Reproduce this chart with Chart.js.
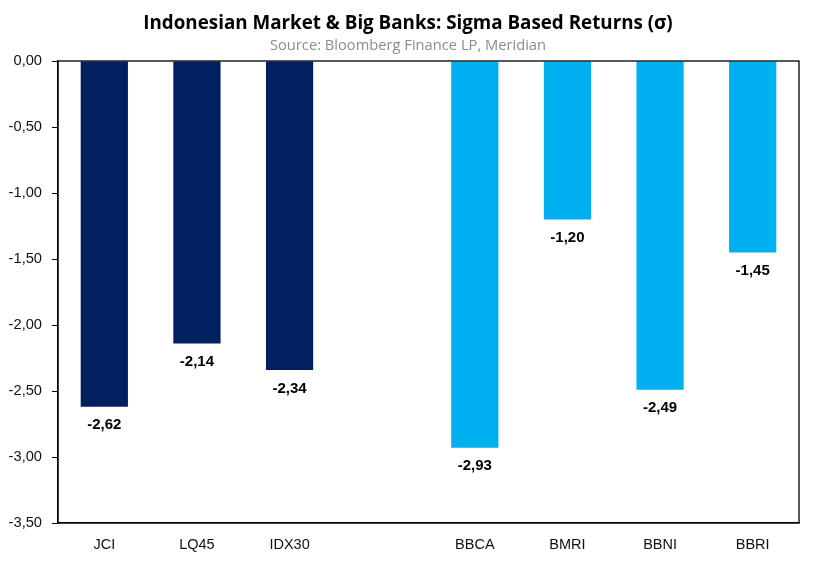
<!DOCTYPE html>
<html>
<head>
<meta charset="utf-8">
<script src="https://cdn.jsdelivr.net/npm/chart.js@4.4.0/dist/chart.umd.min.js"></script>
<style>
  html, body { margin: 0; padding: 0; background: #ffffff; }
  #wrap { width: 816px; height: 561px; }
</style>
</head>
<body>
<div id="wrap"><canvas id="c" width="816" height="561"></canvas></div>
<script>
const categories = ["JCI", "LQ45", "IDX30", "", "BBCA", "BMRI", "BBNI", "BBRI"];
const sigmaValues = [-2.62, -2.14, -2.34, null, -2.93, -1.20, -2.49, -1.45];
const barColors = ["#002060", "#002060", "#002060", "#002060", "#00B0F0", "#00B0F0", "#00B0F0", "#00B0F0"];
const yTickMin = -3.5;
const yTickMax = 0;
const yTickStep = 0.5;
const titleText = "Indonesian Market & Big Banks: Sigma Based Returns (σ)";
const subtitleText = "Source: Bloomberg Finance LP, Meridian";

const fmt = v => v.toFixed(2).replace('.', ',');

const headerPlugin = {
  id: 'headerPlugin',
  afterDraw(chart) {
    const { ctx, width } = chart;
    ctx.save();
    ctx.textAlign = 'center';
    ctx.textBaseline = 'middle';
    ctx.fillStyle = '#000000';
    ctx.font = 'bold 18.8px "Open Sans", "Roboto", sans-serif';
    ctx.fillText(titleText, width / 2, 23.3);
    ctx.fillStyle = '#8c8c8c';
    ctx.font = '14.7px "Open Sans", "Roboto", sans-serif';
    ctx.fillText(subtitleText, width / 2, 45.4);
    ctx.restore();
  }
};

const boxPlugin = {
  id: 'boxPlugin',
  afterDraw(chart) {
    const { ctx, chartArea: a } = chart;
    ctx.save();
    ctx.strokeStyle = '#000000';
    ctx.lineWidth = 1.3;
    ctx.strokeRect(a.left, a.top, a.right - a.left, a.bottom - a.top);
    ctx.restore();
  }
};

const labelPlugin = {
  id: 'labelPlugin',
  afterDatasetsDraw(chart) {
    const { ctx } = chart;
    const meta = chart.getDatasetMeta(0);
    ctx.save();
    ctx.font = 'bold 15px "Liberation Sans", Arial, sans-serif';
    ctx.fillStyle = '#000000';
    ctx.textAlign = 'center';
    ctx.textBaseline = 'middle';
    meta.data.forEach((el, i) => {
      const v = sigmaValues[i];
      if (v === null || v === undefined) return;
      ctx.fillText(fmt(v), el.x, el.y + 18.5);
    });
    ctx.restore();
  }
};

new Chart(document.getElementById('c'), {
  type: 'bar',
  data: {
    labels: categories,
    datasets: [{
      data: sigmaValues,
      backgroundColor: barColors,
      borderWidth: 0,
      barPercentage: 0.51,
      categoryPercentage: 1.0
    }]
  },
  options: {
    responsive: false,
    animation: false,
    devicePixelRatio: 1,
    layout: { padding: { left: 0, right: 17, top: 61, bottom: 0 } },
    plugins: {
      legend: { display: false },
      tooltip: { enabled: false },
      title: { display: false },
      subtitle: { display: false }
    },
    scales: {
      x: {
        grid: { display: false, drawTicks: false },
        border: { display: true, color: '#000000', width: 1.3 },
        ticks: {
          color: '#111111',
          font: { family: '"Liberation Sans", Arial, sans-serif', size: 14.5 },
          padding: 13,
          maxRotation: 0
        },
        afterFit(scale) { scale.height = 38; }
      },
      y: {
        min: yTickMin,
        max: yTickMax,
        grid: { drawOnChartArea: false, drawTicks: true, tickLength: 6, color: '#000000', lineWidth: 1 },
        border: { display: true, color: '#000000', width: 1.3 },
        ticks: {
          stepSize: yTickStep,
          color: '#111111',
          font: { family: '"Liberation Sans", Arial, sans-serif', size: 14.67 },
          padding: 10,
          callback: v => fmt(v)
        },
        afterFit(scale) { scale.width = 58; }
      }
    }
  },
  plugins: [headerPlugin, boxPlugin, labelPlugin]
});
</script>
</body>
</html>
